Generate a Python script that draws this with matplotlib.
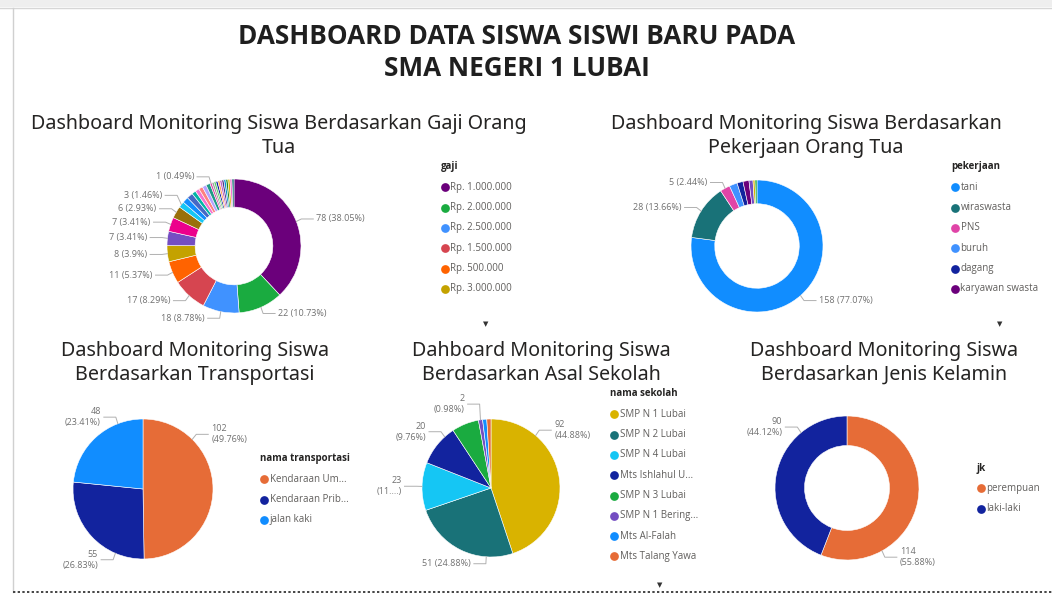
import matplotlib
matplotlib.use("Agg")
import matplotlib.pyplot as plt
import numpy as np

W, H = 1052, 597

# ---- data ----
gaji_names = ["Rp. 1.000.000", "Rp. 2.000.000", "Rp. 2.500.000", "Rp. 1.500.000",
              "Rp. 500.000", "Rp. 3.000.000", "Rp. 1.200.000", "Rp. 800.000",
              "Rp. 4.000.000", "Rp. 3.500.000", "Rp. 1.800.000", "Rp. 700.000",
              "Rp. 5.000.000", "Rp. 600.000", "Rp. 2.200.000", "Rp. 1.300.000",
              "Rp. 900.000", "Rp. 4.500.000", "Rp. 1.700.000", "Rp. 2.800.000",
              "Rp. 400.000", "Rp. 6.000.000", "Rp. 1.100.000", "Rp. 3.200.000",
              "Rp. 750.000", "Rp. 2.700.000", "Rp. 300.000", "Rp. 1.400.000",
              "Rp. 2.300.000"]
gaji_values = [78, 22, 18, 17, 11, 8, 7, 7, 6, 3, 3, 3, 2, 2, 2, 2, 2,
               1, 1, 1, 1, 1, 1, 1, 1, 1, 1, 1, 1]
gaji_colors = ["#6B007B", "#1AAB40", "#4092FF", "#D64550", "#FF6300", "#C4A200",
               "#744EC2", "#EC008C", "#99700A", "#15C6F4", "#118DFF", "#4668C5",
               "#00B5A5", "#F472D0", "#FF8080", "#B5A1FF", "#1F9A85", "#E044A7",
               "#9C9C9C", "#5BD667", "#12239E", "#FFA058", "#BE5DC9", "#533285",
               "#0091D5", "#25891C", "#D9B300", "#F472D0", "#197278"]

kerja_names = ["tani", "wiraswasta", "PNS", "buruh", "dagang", "karyawan swasta",
               "TNI/Polri", "honorer", "nelayan"]
kerja_values = [158, 28, 5, 4, 3, 3, 2, 1, 1]
kerja_colors = ["#118DFF", "#197278", "#E044A7", "#4092FF", "#12239E", "#6B007B",
                "#744EC2", "#D9B300", "#1AAB40"]

trans_names = ["Kendaraan Um...", "Kendaraan Prib...", "jalan kaki"]
trans_values = [102, 55, 48]
trans_colors = ["#E66C37", "#12239E", "#118DFF"]

sekolah_names = ["SMP N 1 Lubai", "SMP N 2 Lubai", "SMP N 4 Lubai", "Mts Ishlahul U...",
                 "SMP N 3 Lubai", "SMP N 1 Bering...", "Mts Al-Falah", "Mts Talang Yawa"]
sekolah_values = [92, 51, 23, 20, 13, 2, 2, 2]
sekolah_colors = ["#D9B300", "#197278", "#15C6F4", "#12239E", "#1AAB40", "#744EC2",
                  "#118DFF", "#E66C37"]

jk_names = ["perempuan", "laki-laki"]
jk_values = [114, 90]
jk_colors = ["#E66C37", "#12239E"]

TITLE_FONT = ["Open Sans", "DejaVu Sans"]
CHART_FONT = ["Noto Sans", "DejaVu Sans"]
SMALL_FONT = ["Open Sans", "DejaVu Sans"]
LABEL_C = "#707070"

fig = plt.figure(figsize=(W / 100, H / 100), dpi=100)
bg = fig.add_axes([0, 0, 1, 1], zorder=0)
bg.set_xlim(0, W)
bg.set_ylim(H, 0)
bg.axis("off")

# frame
bg.axhspan(0, 7, color="#eeeeee", lw=0)
bg.plot([0, W], [7.5, 7.5], color="#d6d6d6", lw=1)
bg.plot([13, 13], [8, 592], color="#d0d0d0", lw=1)
bg.plot([13, W], [592, 592], color="#444444", lw=1.4, ls=(0, (1.2, 1.2)))

bg.text(517, 36, "DASHBOARD DATA SISWA SISWI BARU PADA", ha="center", va="center",
        fontsize=18.8, fontweight="bold", family=TITLE_FONT, color="#1f1f1f")
bg.text(517, 69, "SMA NEGERI 1 LUBAI", ha="center", va="center",
        fontsize=18.8, fontweight="bold", family=TITLE_FONT, color="#1f1f1f")

chart_titles = [
    (279, "Dashboard Monitoring Siswa Berdasarkan Gaji Orang\nTua", 136),
    (806, "Dashboard Monitoring Siswa Berdasarkan\nPekerjaan Orang Tua", 136),
    (195, "Dashboard Monitoring Siswa\nBerdasarkan Transportasi", 363),
    (541, "Dahboard Monitoring Siswa\nBerdasarkan Asal Sekolah", 363),
    (884, "Dashboard Monitoring Siswa\nBerdasarkan Jenis Kelamin", 363),
]
for x, t, y in chart_titles:
    bg.text(x, y, t, ha="center", va="center", fontsize=14.2, family=CHART_FONT,
            color="#252423", linespacing=1.22)


def legend(x, y, title, names, colors, n_show, step=20.3):
    bg.text(x - 4, y, title, ha="left", va="center", fontsize=7, fontweight="bold",
            family=SMALL_FONT, color="#252423")
    for k in range(min(n_show, len(names))):
        yy = y + (k + 1) * step
        bg.plot([x], [yy], marker="o", ms=6.3, color=colors[k], mec="none")
        bg.text(x + 5.5, yy, names[k], ha="left", va="center", fontsize=7,
                family=SMALL_FONT, color="#605E5C")


legend(445, 167, "gaji", gaji_names, gaji_colors, 6)
legend(955, 167, "pekerjaan", kerja_names, kerja_colors, 6)
legend(264, 459, "nama transportasi", trans_names, trans_colors, 3)
legend(614, 394, "nama sekolah", sekolah_names, sekolah_colors, 8)
legend(981, 468, "jk", jk_names, jk_colors, 2)
for ax_, ay_ in [(486, 324), (1000, 324), (660, 585)]:
    bg.text(ax_, ay_, "\u25BC", ha="center", va="center", fontsize=5, color="#333333")


def fmt(v, total, two_line):
    pct = f"{v / total * 100:.2f}".rstrip("0").rstrip(".")
    return f"{v}\n({pct}%)" if two_line else f"{v} ({pct}%)"


def chart(cx, cy, R, values, colors, width, idx, fracs=None, two=None,
          override=None, gap=0.2):
    ax = fig.add_axes([(cx - R) / W, 1 - (cy + R) / H, 2 * R / W, 2 * R / H], zorder=2)
    wp = dict(edgecolor="white", linewidth=0.4)
    if width:
        wp["width"] = width
    ax.pie(values, colors=colors, startangle=90, counterclock=False, radius=1,
           wedgeprops=wp)
    ax.set_xlim(-1, 1)
    ax.set_ylim(-1, 1)
    ax.axis("off")
    total = sum(values)
    cum = np.concatenate([[0], np.cumsum(values)])
    fracs = fracs or [0.5] * len(idx)
    two = two or [False] * len(idx)
    override = override or {}
    items = []
    for n, i in enumerate(idx):
        a = (cum[i] + fracs[n] * values[i]) / total * 2 * np.pi
        x, y = np.sin(a), np.cos(a)
        txt = override.get(i, fmt(values[i], total, two[n]))
        items.append([x, y, 1.1 * y, txt])
    # keep labels on each side apart
    for side in (1, -1):
        s = sorted([it for it in items if (it[0] >= 0) == (side > 0)],
                   key=lambda it: it[2])
        for k in range(1, len(s)):
            s[k][2] = max(s[k][2], s[k - 1][2] + gap)
    px = 1.0 / R
    for x, y, ly, txt in items:
        side = 1 if x >= 0 else -1
        ex = 1.08 * x
        hx = ex + side * 12 * px
        ax.plot([x, ex, hx], [y, ly, ly], color="#b0b0b0", lw=0.7, clip_on=False)
        ax.text(hx + side * 3 * px, ly, txt, ha="left" if side > 0 else "right",
                va="center", fontsize=6.5, family=SMALL_FONT, color=LABEL_C,
                multialignment="left" if side > 0 else "right", clip_on=False,
                linespacing=1.25)
    return ax


chart(234, 246, 67, gaji_values, gaji_colors, 0.42,
      idx=[0, 1, 2, 3, 4, 5, 6, 7, 8, 9, 17])
chart(757, 246, 66, kerja_values, kerja_colors, 0.36, idx=[0, 1, 2])
chart(143, 489, 70, trans_values, trans_colors, None, idx=[0, 1, 2],
      fracs=[0.25, 0.25, 0.75], two=[True, True, True], gap=0.4)
chart(491, 488, 69, sekolah_values, sekolah_colors, None, idx=[0, 1, 2, 3, 5],
      fracs=[0.25, 0.25, 0.5, 0.75, 0.5], two=[True, False, True, True, True],
      override={2: "23\n(11....)"}, gap=0.4)
chart(847, 488, 72, jk_values, jk_colors, 0.41, idx=[0, 1],
      fracs=[0.75, 0.75], two=[True, True], gap=0.4)

fig.savefig("out.png", dpi=100, facecolor="white")
